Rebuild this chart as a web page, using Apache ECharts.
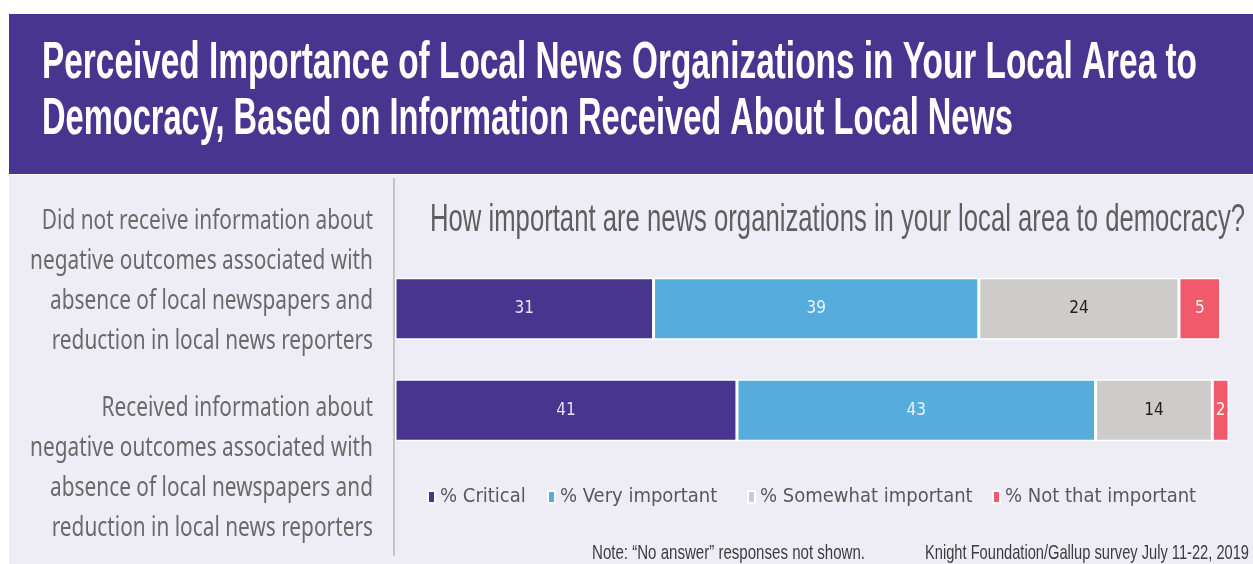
<!DOCTYPE html>
<html>
<head>
<meta charset="utf-8">
<script src="https://cdn.jsdelivr.net/npm/echarts@6/dist/echarts.min.js"></script>
<style>
  html, body { margin: 0; padding: 0; background: #fff; }
  #main { width: 1253px; height: 564px; }
</style>
</head>
<body>
<div id="main"></div>
<script>
// data
const categories = [
  'Did not receive information about\nnegative outcomes associated with\nabsence of local newspapers and\nreduction in local news reporters',
  'Received information about\nnegative outcomes associated with\nabsence of local newspapers and\nreduction in local news reporters'
];
const seriesNames = ['% Critical', '% Very important', '% Somewhat important', '% Not that important'];
const critical = [31, 41];
const veryImportant = [39, 43];
const somewhat = [24, 14];
const notThat = [5, 2];

const colors = ['#48358f', '#56acdb', '#cdcccb', '#f05a6a'];
const labelColors = ['#e4e0f4', '#eaf4fb', '#1e1e1e', '#fff2f4'];
const legendLeft = [422, 542, 742, 987];
const condensed = '"DejaVu Sans Condensed", "Liberation Sans"';

// squeeze text horizontally so it fills the width seen in the picture
const measureCtx = document.createElement('canvas').getContext('2d');
function fit(text, font, width) {
  measureCtx.font = font;
  return width / measureCtx.measureText(text).width;
}

const titleFont = 'bold 52px "Liberation Sans"';
const title1 = 'Perceived Importance of Local News Organizations in Your Local Area to';
const title2 = 'Democracy, Based on Information Received About Local News';

const subFont = '39px "Liberation Sans"';
const subtitle = 'How important are news organizations in your local area to democracy?';

const sideFont = '28px "Noto Sans"';
const sideScale = fit('negative outcomes associated with', sideFont, 343);

const noteFont = '21px "Liberation Sans"';
const note1 = 'Note: \u201CNo answer\u201D responses not shown.';
const note2 = 'Knight Foundation/Gallup survey July 11-22, 2019';

function textEl(x, y, text, font, fill, align, scaleX, extra) {
  return {
    type: 'text', x: x, y: y, scaleX: scaleX, z: 10,
    style: Object.assign({ text: text, font: font, fill: fill, align: align, verticalAlign: 'middle' }, extra || {})
  };
}

const chart = echarts.init(document.getElementById('main'));

const values = [critical, veryImportant, somewhat, notThat];

chart.setOption({
  animation: false,
  backgroundColor: '#fff',
  grid: { left: 395, width: 834, top: 258, height: 203 },
  xAxis: { type: 'value', min: 0, max: 100, show: false },
  yAxis: { type: 'category', data: categories, inverse: true, show: false },
  // one legend per item so each sits where it does in the picture
  legend: seriesNames.map(function (name, i) {
    return {
      left: legendLeft[i], top: 482, itemWidth: 7, itemHeight: 12, icon: 'rect', itemGap: 0,
      textStyle: { fontFamily: condensed, fontSize: 20, color: '#585858' },
      data: [name]
    };
  }),
  graphic: [
    { type: 'rect', shape: { x: 9, y: 14, width: 1244, height: 160 }, style: { fill: '#48358f' }, z: 0 },
    { type: 'rect', shape: { x: 9, y: 175, width: 1244, height: 389 }, style: { fill: '#eeedf5' }, z: -1 },
    { type: 'line', shape: { x1: 394, y1: 178, x2: 394, y2: 556 }, style: { stroke: '#9a99a3', lineWidth: 1 }, z: 1 },
    textEl(42, 64, title1, titleFont, '#fff', 'left', fit(title1, titleFont, 1155)),
    textEl(42, 120, title2, titleFont, '#fff', 'left', fit(title2, titleFont, 971)),
    textEl(430, 220, subtitle, subFont, '#5e5e5e', 'left', fit(subtitle, subFont, 815)),
    textEl(373, 281, categories[0], sideFont, '#6a6a6a', 'right', sideScale, { lineHeight: 40 }),
    textEl(373, 468, categories[1], sideFont, '#6a6a6a', 'right', sideScale, { lineHeight: 40 }),
    textEl(592, 553, note1, noteFont, '#3c3c3c', 'left', fit(note1, noteFont, 273)),
    textEl(925, 553, note2, noteFont, '#3c3c3c', 'left', fit(note2, noteFont, 324))
  ],
  series: seriesNames.map(function (name, i) {
    return {
      name: name,
      type: 'bar',
      stack: 'total',
      barWidth: 62,
      data: values[i],
      itemStyle: { color: colors[i], borderColor: '#ffffff', borderWidth: 1.5 },
      label: {
        show: true, position: 'inside',
        fontFamily: condensed, fontSize: 17, color: labelColors[i]
      }
    };
  })
});
</script>
</body>
</html>
